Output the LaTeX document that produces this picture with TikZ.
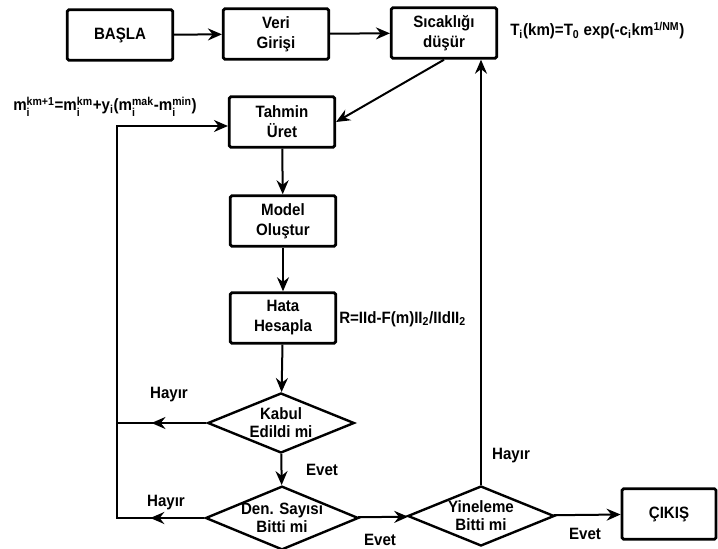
\documentclass[tikz,border=0pt]{standalone}
\usepackage{amsmath}
\usepackage{fontspec}
\setmainfont{Liberation Sans}[FakeStretch=0.92]
\usetikzlibrary{shapes.geometric,arrows.meta}
\begin{document}
\begin{tikzpicture}[x=0.75pt,y=-0.75pt,
  font=\bfseries\fontsize{12.3}{15}\selectfont,
  kutu/.style={draw,line width=2.1pt,rounded corners=1.2pt,minimum width=79pt,minimum height=38pt,align=center},
  karar/.style={draw,diamond,line width=1.8pt,inner sep=0pt,shape aspect=2.4,minimum width=110pt,minimum height=45pt,align=center,font=\bfseries\fontsize{12.3}{13.5}\selectfont},
  ok/.style={line width=1.5pt,-{Stealth[length=10.5pt,width=9pt,inset=3.5pt]}},
  cizgi/.style={line width=1.5pt}]
\useasboundingbox (0,0) rectangle (718,549);
% kutular
\node[kutu] (basla) at (120,35) {BAŞLA};
\node[kutu] (veri) at (276,34) {Veri\\Girişi};
\node[kutu] (sicak) at (444,33) {Sıcaklığı\\düşür};
\node[kutu] (tahmin) at (282,122) {Tahmin\\Üret};
\node[kutu] (model) at (283,221) {Model\\Oluştur};
\node[kutu] (hata) at (283,318) {Hata\\Hesapla};
\node[karar] (kabul) at (281,423) {Kabul\\Edildi mi};
\node[karar,minimum height=41pt] (den) at (282,518) {Den. Sayısı\\Bitti mi};
\node[karar] (yine) at (481,516) {Yineleme\\Bitti mi};
\node[kutu,minimum width=70.5pt] (cikis) at (669,514) {ÇIKIŞ};
% formuller
\node[anchor=base west,inner sep=0pt] (tformul) at (510,36) {T$_{\text{i}}$(km)=T$_{\text{0}}$ exp(-c$_{\text{i}}$km$^{\text{1/NM}}$)};
\node[anchor=base west,inner sep=0pt] (mformul) at (13,111) {m$^{\text{km+1}}_{\text{i}}$=m$^{\text{km}}_{\text{i}}$+y$_{\text{i}}$(m$^{\text{mak}}_{\text{i}}$-m$^{\text{min}}_{\text{i}}$)};
\node[anchor=base west,inner sep=0pt] (rformul) at (339,323) {R=IId-F(m)II$_{\text{2}}$/IIdII$_{\text{2}}$};
% etiketler
\node (hayir1) at (169,395) {Hayır};
\node (hayir2) at (166,503) {Hayır};
\node (evet1) at (322,470) {Evet};
\node (evet2) at (380,540) {Evet};
\node (hayir3) at (511,456) {Hayır};
\node (evet3) at (585,534) {Evet};
% baglantilar
\coordinate (solust) at (117,126);
\draw[ok] (basla) -- (veri);
\draw[ok] (veri) -- (sicak);
\draw[ok] (sicak.south) -- (tahmin.east);
\draw[ok] (tahmin) -- (model);
\draw[ok] (model) -- (hata);
\draw[ok] (hata) -- (kabul);
\draw[ok] (kabul) -- (den);
\draw[ok] (den) -- (yine);
\draw[ok] (yine) -- (cikis);
\draw[ok] (yine.north) -- (yine.north |- sicak.south);
\draw[cizgi] (kabul.west) -- (kabul.west -| solust);
\draw[ok] (kabul.west) -- ++(-55,0);
\draw[ok] (den.west) -- ++(-54,0);
\draw[ok] (den.west) -- (den.west -| solust) -- (solust) -- (solust -| tahmin.west);
\end{tikzpicture}
\end{document}
